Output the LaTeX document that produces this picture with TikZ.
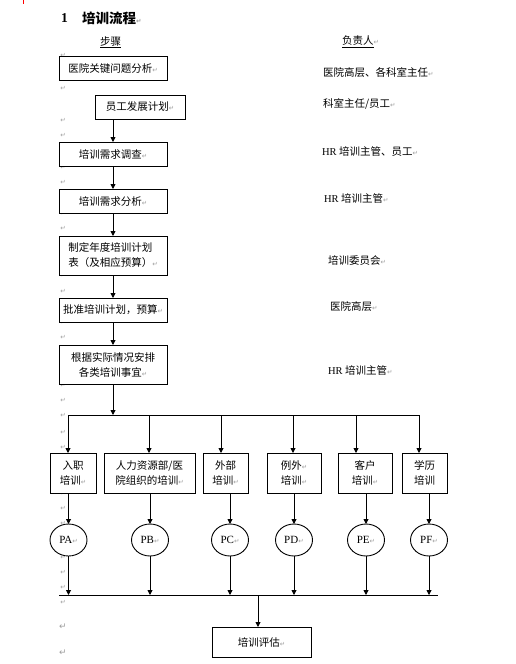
\documentclass[tikz,border=0pt]{standalone}
\usepackage{fontspec}
\setmainfont{Liberation Serif}
\newfontfamily\cjk{Noto Sans CJK SC}
\newfontfamily\symf{DejaVu Sans}
\usetikzlibrary{arrows.meta,shapes.geometric}
\definecolor{retgray}{gray}{0.62}
\newcommand\rt{{\symf\fontsize{6.5}{6.5}\selectfont\textcolor{retgray}{↵}}}
\begin{document}
\begin{tikzpicture}[x=1pt,y=-1pt,
  every node/.style={inner sep=0pt, outer sep=0pt},
  txt/.style={font=\cjk\fontsize{10.5}{15}\selectfont},
  stepbox/.style={draw, line width=0.9pt, fill=white, txt, align=center},
  oval/.style={draw, ellipse, line width=0.9pt, fill=white, minimum width=37pt, minimum height=32pt, font=\fontsize{11}{13}\selectfont},
  flow/.style={line width=0.9pt, -{Triangle[length=5pt,width=5pt]}},
  bus/.style={line width=0.9pt},
  retmark/.style={font=\symf\fontsize{6.5}{6.5}\selectfont, text=retgray},
  resp/.style={txt, anchor=west},
]
\useasboundingbox (0,0) rectangle (515,664);
\fill[white] (0,0) rectangle (515,664);
\draw[red, line width=0.8pt] (23,0) -- (23,4);

% paragraph marks in the left margin
\foreach \yy [count=\i] in {55,88,120,135,167,182,213,228,275,291,322,337,385,400,415,432,447,493,508,523,557,572,587,602}
  \node[retmark] (m\i) at (63,\yy) {↵};
\node[retmark, font=\symf\fontsize{9}{9}\selectfont] (mA) at (63,627) {↵};
\node[retmark, font=\symf\fontsize{9}{9}\selectfont] (mB) at (63,653) {↵};

% title and headings
\node[anchor=west, font=\bfseries\fontsize{13.5}{14}\selectfont] (tnum) at (61,18) {1};
\node[anchor=west, font=\cjk\bfseries\fontsize{13.5}{14}\selectfont] (ttl) at (82,18) {培训流程\rt};
\node[txt, anchor=west] (hstep) at (100,42) {\underline{步骤}};
\node[txt, anchor=west] (hresp) at (342,42) {\underline{负责人}\rt};

% steps
\node[stepbox, minimum width=108pt, minimum height=24pt] (b1) at (113,68) {医院关键问题分析\rt};
\node[stepbox, minimum width=90pt, minimum height=24pt] (b2) at (140,107) {员工发展计划\rt};
\node[stepbox, minimum width=108pt, minimum height=24pt] (b3) at (113,154) {培训需求调查\rt};
\node[stepbox, minimum width=108pt, minimum height=24pt] (b4) at (113,201) {培训需求分析\rt};
\node[stepbox, minimum width=108pt, minimum height=39pt, align=left] (b5) at (113,255.5) {制定年度培训计划\\表（及相应预算）\rt};
\node[stepbox, minimum width=108pt, minimum height=24pt] (b6) at (113,310) {批准培训计划，预算\rt};
\node[stepbox, minimum width=108pt, minimum height=39pt] (b7) at (113,364.5) {根据实际情况安排\\各类培训事宜\rt};

\draw[flow] (b2.south -| b3.north) -- (b3.north);
\draw[flow] (b3.south) -- (b4.north);
\draw[flow] (b4.south) -- (b5.north);
\draw[flow] (b5.south) -- (b6.north);
\draw[flow] (b6.south) -- (b7.north);

% responsible persons
\node[resp] (p1) at (323,73) {医院高层、各科室主任\rt};
\node[resp] (p2) at (323,104) {科室主任/员工\rt};
\node[resp] (p3) at (322,152) {\rmfamily HR \cjk 培训主管、员工\rt};
\node[resp] (p4) at (324,198) {\rmfamily HR \cjk 培训主管\rt};
\node[resp] (p5) at (328,261) {培训委员会\rt};
\node[resp] (p6) at (330,307) {医院高层\rt};
\node[resp] (p7) at (328,370) {\rmfamily HR \cjk 培训主管\rt};

% top bus
\coordinate (t0) at (113,415);
\coordinate (tl) at (68,415);
\coordinate (tr) at (419,415);
\draw[flow] (b7.south) -- (t0);
\draw[bus] (tl) -- (tr);

% training types
\node[stepbox, minimum width=46pt, minimum height=40pt] (r1) at (73,473) {入职\\培训\rt};
\node[stepbox, minimum width=91pt, minimum height=40pt] (r2) at (149.5,473) {人力资源部/医\\院组织的培训\rt};
\node[stepbox, minimum width=45pt, minimum height=40pt] (r3) at (225.5,473) {外部\\培训\rt};
\node[stepbox, minimum width=54pt, minimum height=40pt] (r4) at (294,473) {例外\rt\\培训\rt};
\node[stepbox, minimum width=54pt, minimum height=40pt] (r5) at (365,473) {客户\\培训\rt};
\node[stepbox, minimum width=45pt, minimum height=40pt] (r6) at (424.5,473) {学历\\培训};

\foreach \xx/\k in {68/1,149/2,221/3,293/4,356/5,419/6}{
  \coordinate (d\k) at (\xx,415);
  \draw[flow] (d\k) -- (d\k |- r\k.north);
}

% ellipses
\node[oval] (e1) at (68.5,540) {PA\rt};
\node[oval] (e2) at (150,540) {PB\rt};
\node[oval] (e3) at (230,540) {PC\rt};
\node[oval] (e4) at (294,540) {PD\rt};
\node[oval] (e5) at (366,540) {PE\rt};
\node[oval] (e6) at (429,540) {PF\rt};

% bottom bus
\coordinate (bl) at (59,595);
\coordinate (br) at (438,595);
\draw[bus] (bl) -- (br);

\foreach \k in {1,...,6}{
  \draw[flow] (e\k |- r\k.south) -- (e\k.north);
  \draw[flow] (e\k.south) -- (e\k |- bl);
}

% evaluation
\node[stepbox, minimum width=99pt, minimum height=30pt] (f) at (261.5,642) {培训评估\rt};
\coordinate (fb) at (258,595);
\draw[flow] (fb) -- (fb |- f.north);
\end{tikzpicture}
\end{document}
